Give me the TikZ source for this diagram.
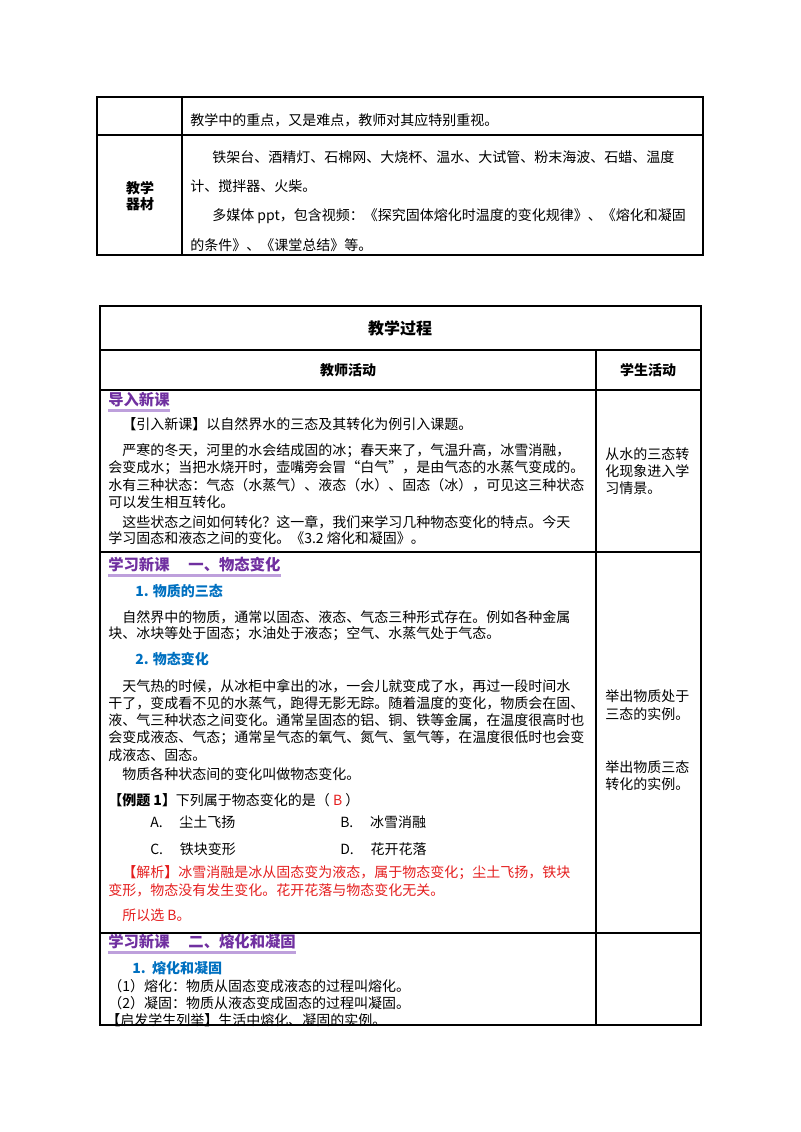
\documentclass[tikz,border=0pt]{standalone}
\usepackage{fontspec}
\setmainfont{Noto Sans CJK SC}
\definecolor{hdpurple}{RGB}{112,48,160}
\definecolor{hdbar}{RGB}{190,160,220}
\definecolor{subblue}{RGB}{0,112,192}
\definecolor{ansred}{RGB}{228,30,30}
\begin{document}
\begin{tikzpicture}[x=0.75pt,y=-0.75pt,
                    grid/.style={line width=0.8pt},
                    txt/.style={anchor=west, inner sep=0pt, font=\fontsize{10.5}{12}\selectfont},
                    head/.style={txt, font=\fontsize{11.5}{13}\selectfont\bfseries, text=hdpurple},
                    bar/.style={hdbar, line width=2pt},
                    sub/.style={txt, font=\fontsize{10.5}{12}\selectfont\bfseries, text=subblue},
                    ans/.style={txt, text=ansred},
                    title/.style={anchor=center, inner sep=0pt, font=\fontsize{12}{14}\selectfont\bfseries}]

\useasboundingbox (0,0) rectangle (800,1132);

% first table
\draw [grid] (97,97) rectangle (703,255);
\draw [grid] (97,135) -- (703,135);
\draw [grid] (182,97) -- (182,255);
\node [txt] (t1a) at (190,120) {教学中的重点，又是难点，教师对其应特别重视。};
\node [title, font=\fontsize{10.5}{12}\selectfont\bfseries, align=center] (qc) at (140,196) {教学\\器材};
\node [txt] (t1b) at (212,157) {铁架台、酒精灯、石棉网、大烧杯、温水、大试管、粉末海波、石蜡、温度};
\node [txt] (t1c) at (190,186) {计、搅拌器、火柴。};
\node [txt] (t1d) at (212,216) {多媒体 ppt，包含视频：《探究固体熔化时温度的变化规律》、《熔化和凝固};
\node [txt] (t1e) at (190,245) {的条件》、《课堂总结》等。};

% second table
\draw [grid] (100,306) rectangle (701,1025);
\foreach \y in {350,390,552,933}
  \draw [grid] (100,\y) -- (701,\y);
\draw [grid] (596,350) -- (596,1025);
\node [title] (jxgc) at (400,328) {教学过程};
\node [title, font=\fontsize{10.5}{12}\selectfont\bfseries] (jshd) at (348,370) {教师活动};
\node [title, font=\fontsize{10.5}{12}\selectfont\bfseries] (xshd) at (648,370) {学生活动};

% row 1
\node [head] (h1) at (108,400) {导入新课};
\draw [bar] ([yshift=-2pt]h1.south west) -- ([yshift=-2pt]h1.south east);
\node [txt] (r1a) at (122,424) {\textbf{【}引入新课\textbf{】}以自然界水的三态及其转化为例引入课题。};
\node [txt] (r1b) at (122,451) {严寒的冬天，河里的水会结成固的冰；春天来了，气温升高，冰雪消融，};
\node [txt] (r1c) at (108,468) {会变成水；当把水烧开时，壶嘴旁会冒“白气”，是由气态的水蒸气变成的。};
\node [txt] (r1d) at (108,485) {水有三种状态：气态（水蒸气）、液态（水）、固态（冰），可见这三种状态};
\node [txt] (r1e) at (108,502) {可以发生相互转化。};
\node [txt] (r1f) at (122,522) {这些状态之间如何转化？这一章，我们来学习几种物态变化的特点。今天};
\node [txt] (r1g) at (108,538) {学习固态和液态之间的变化。《3.2 熔化和凝固》。};
\node [txt] (s1a) at (605,454) {从水的三态转};
\node [txt] (s1b) at (605,471) {化现象进入学};
\node [txt] (s1c) at (605,488) {习情景。};

% row 2
\node [head] (h2) at (108,565) {学习新课\quad\ 一、物态变化};
\draw [bar] ([yshift=-2pt]h2.south west) -- ([yshift=-2pt]h2.south east);
\node [sub] (s21) at (135,591) {1. 物质的三态};
\node [txt] (r2a) at (122,617) {自然界中的物质，通常以固态、液态、气态三种形式存在。例如各种金属};
\node [txt] (r2b) at (108,634) {块、冰块等处于固态；水油处于液态；空气、水蒸气处于气态。};
\node [sub] (s22) at (135,659) {2. 物态变化};
\node [txt] (r2c) at (122,686) {天气热的时候，从冰柜中拿出的冰，一会儿就变成了水，再过一段时间水};
\node [txt] (r2d) at (108,703) {干了，变成看不见的水蒸气，跑得无影无踪。随着温度的变化，物质会在固、};
\node [txt] (r2e) at (108,720) {液、气三种状态之间变化。通常呈固态的铝、铜、铁等金属，在温度很高时也};
\node [txt] (r2f) at (108,738) {会变成液态、气态；通常呈气态的氧气、氮气、氢气等，在温度很低时也会变};
\node [txt] (r2g) at (108,755) {成液态、固态。};
\node [txt] (r2h) at (122,774) {物质各种状态间的变化叫做物态变化。};
\node [txt] (r2i) at (108,800) {\textbf{【例题 1】}下列属于物态变化的是（ \textcolor{ansred}{B} ）};
\node [txt] (oa) at (150,822) {A.\hspace{1.2em}尘土飞扬};
\node [txt] (ob) at (340,822) {B.\hspace{1.2em}冰雪消融};
\node [txt] (oc) at (150,849) {C.\hspace{1.2em}铁块变形};
\node [txt] (od) at (340,849) {D.\hspace{1.2em}花开花落};
\node [ans] (r2j) at (122,873) {\textbf{【}解析\textbf{】}冰雪消融是冰从固态变为液态，属于物态变化；尘土飞扬，铁块};
\node [ans] (r2k) at (108,890) {变形，物态没有发生变化。花开花落与物态变化无关。};
\node [ans] (r2l) at (122,915) {所以选 B。};
\node [txt] (s2a) at (605,696) {举出物质处于};
\node [txt] (s2b) at (605,714) {三态的实例。};
\node [txt] (s2c) at (605,767) {举出物质三态};
\node [txt] (s2d) at (605,784) {转化的实例。};

% row 3
\node [head] (h3) at (108,942) {学习新课\quad\ 二、熔化和凝固};
\draw [bar] ([yshift=-2pt]h3.south west) -- ([yshift=-2pt]h3.south east);
\node [sub] (s31) at (132,968) {1.\ \ 熔化和凝固};
\node [txt] (r3a) at (108,986) {（1）熔化：物质从固态变成液态的过程叫熔化。};
\node [txt] (r3b) at (108,1003) {（2）凝固：物质从液态变成固态的过程叫凝固。};
\node [txt] (r3c) at (106,1020) {\textbf{【}启发学生列举\textbf{】}生活中熔化、凝固的实例。};
\end{tikzpicture}
\end{document}
